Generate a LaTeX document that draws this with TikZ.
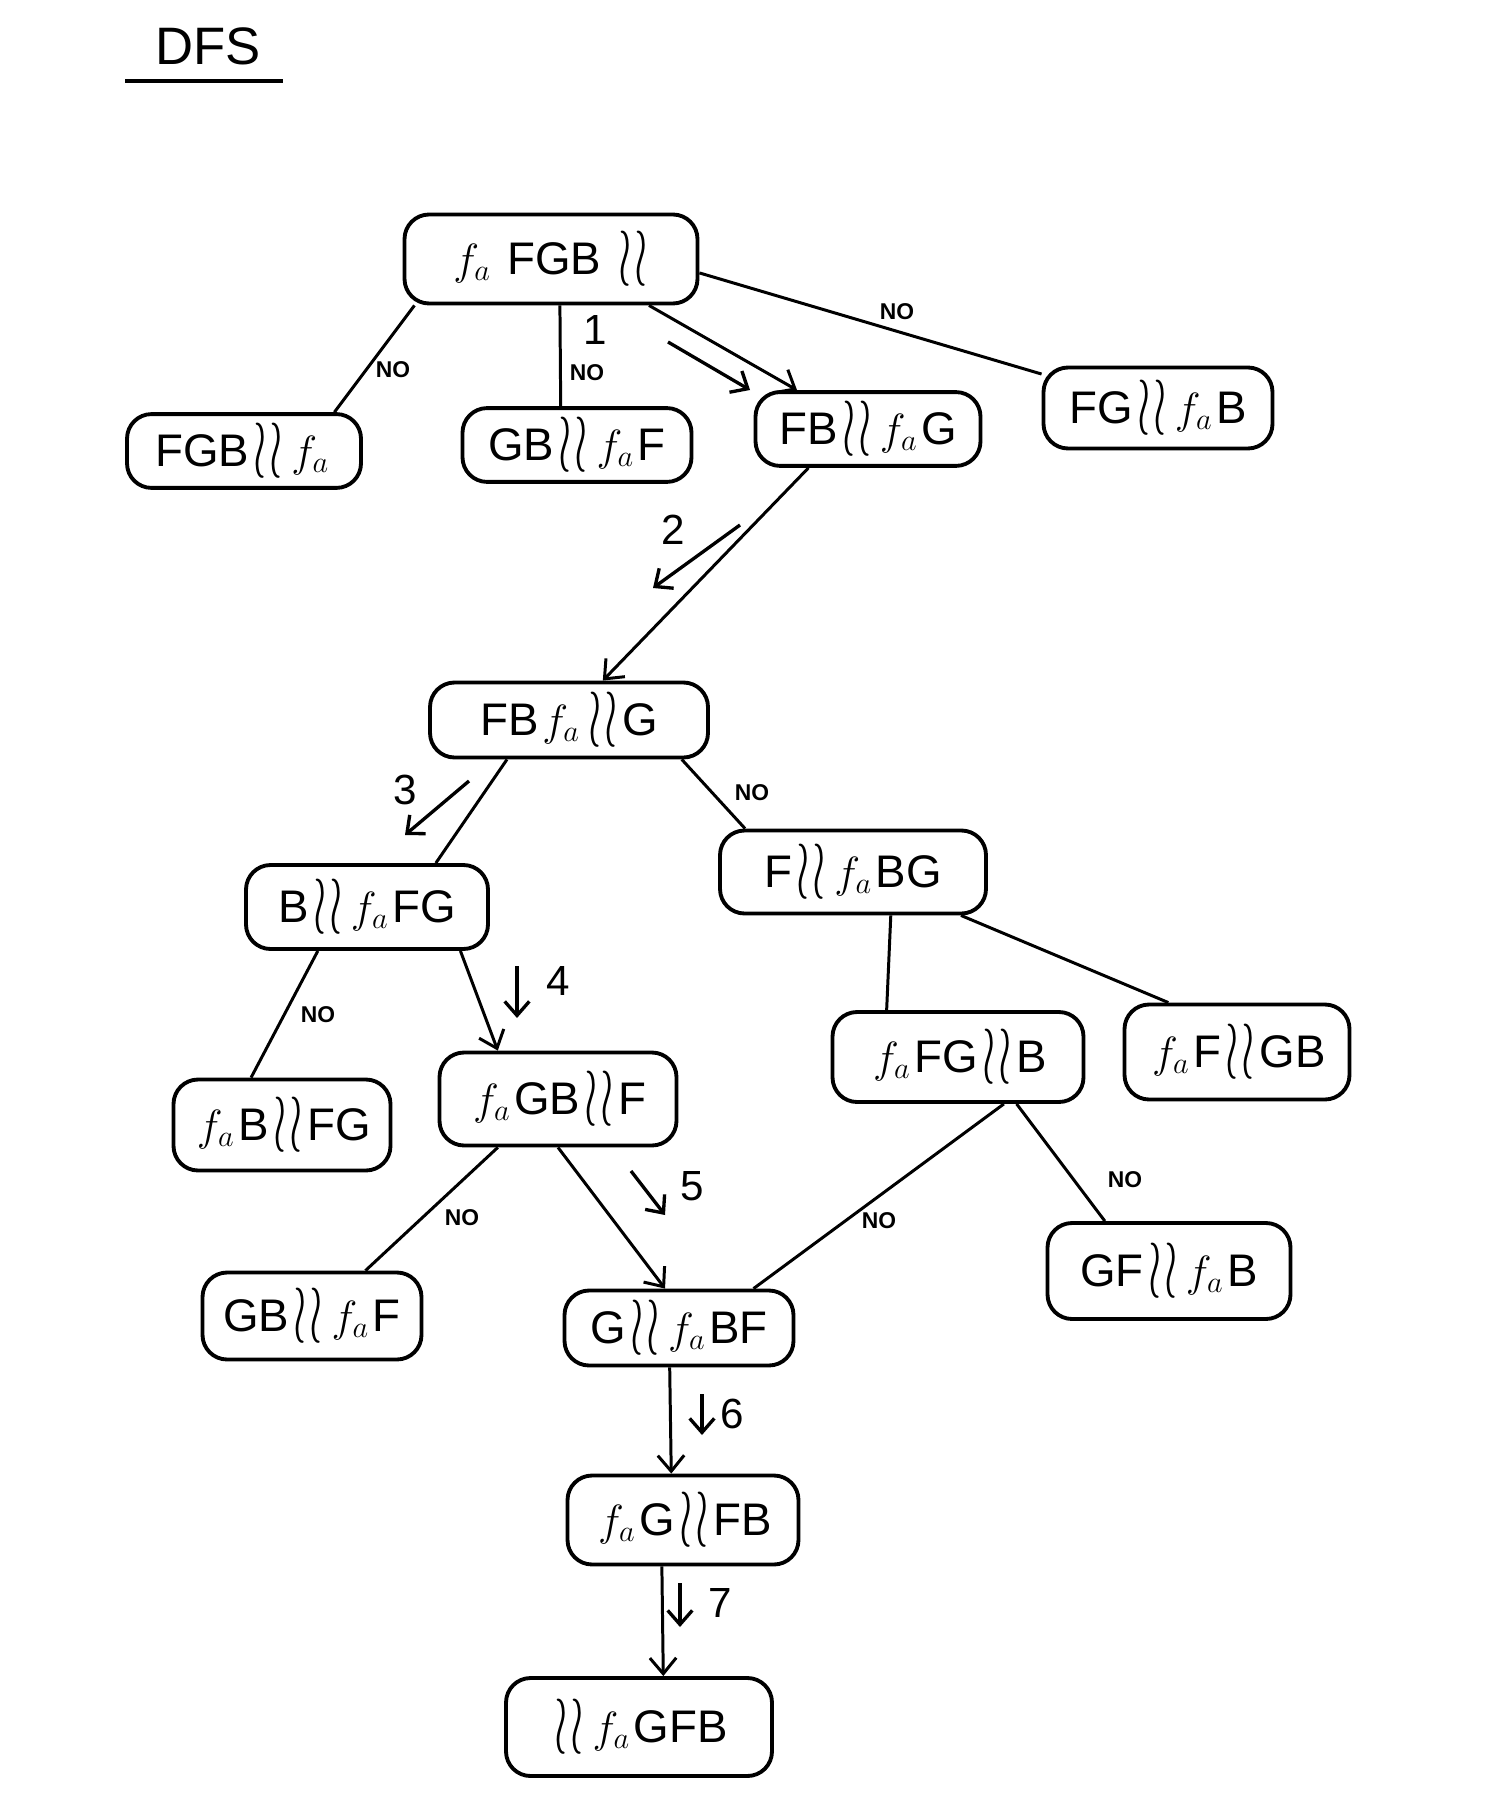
\documentclass[tikz,border=0pt]{standalone}
\usepackage{fontspec}
\usepackage{graphicx}
\setmainfont{Liberation Sans}
\usetikzlibrary{arrows.meta,calc}
\newcommand{\fa}{\kern0.08em$f_{a}$\kern0.08em}
\newcommand{\rv}{\kern0.1em\raisebox{-0.12em}{\scalebox{1.1}[1.9]{$\wr\mkern1mu\wr$}}\kern0.1em}
\begin{document}
\begin{tikzpicture}[x=0.02cm,y=-0.02cm,
  box/.style={draw, line width=2.2pt, rounded corners=14pt, inner sep=0pt,
    font=\fontsize{26}{30}\selectfont},
  bx/.style 2 args={box, minimum width=#1*0.02cm, minimum height=#2*0.02cm},
  edge/.style={line width=1.7pt},
  arr/.style={line width=1.7pt, -{Straight Barb[length=9pt,width=15pt,line width=1.7pt]}},
  annot/.style={line width=1.9pt, -{Straight Barb[length=8pt,width=14pt,line width=1.9pt]}},
  nolab/.style={font=\fontsize{13}{15}\selectfont\bfseries, inner sep=1pt},
  numlab/.style={font=\fontsize{24}{28}\selectfont, inner sep=1pt}]
\useasboundingbox (0,0) rectangle (1510,1814);

% title
\node[font=\fontsize{30}{34}\selectfont] (title) at (208,46) {DFS};
\coordinate (ulA) at (125,81);
\coordinate (ulB) at (283,81);
\draw[line width=2pt] (ulA) -- (ulB);

% nodes
\node[bx={293}{89}] (root) at (551,259) {\fa\ FGB\ \rv};
\node[bx={234}{69}] (L1a) at (244,451) {FGB\rv\fa};
\node[bx={229}{69}] (L1b) at (577,445) {GB\rv\fa F};
\node[bx={225}{72}] (L1c) at (868,429) {FB\rv\fa G};
\node[bx={229}{81}] (L1d) at (1158,408) {FG\rv\fa B};
\node[bx={278}{75}] (N2) at (569,720) {FB\fa\rv G};
\node[bx={242}{84}] (N3) at (367,907) {B\rv\fa FG};
\node[bx={266}{83}] (N3r) at (853,872) {F\rv\fa BG};
\node[bx={217}{91}] (N4l) at (282,1125) {\fa B\rv FG};
\node[bx={237}{93}] (N4) at (558,1099) {\fa GB\rv F};
\node[bx={251}{90}] (N4m) at (958,1057) {\fa FG\rv B};
\node[bx={225}{95}] (N4r) at (1237,1052) {\fa F\rv GB};
\node[bx={219}{87}] (N5l) at (312,1316) {GB\rv\fa F};
\node[bx={229}{75}] (N5) at (679,1328) {G\rv\fa BF};
\node[bx={243}{96}] (N5r) at (1169,1271) {GF\rv\fa B};
\node[bx={231}{89}] (N6) at (683,1520) {\fa G\rv FB};
\node[bx={266}{98}] (N7) at (639,1727) {\rv\fa GFB};

% edges
\draw[edge] ($(root.south west)!0.04!(root.south east)$) -- ($(L1a.north west)!0.88!(L1a.north east)$);
\draw[edge] ($(root.south west)!0.53!(root.south east)$) -- ($(L1b.north west)!0.43!(L1b.north east)$);
\draw[arr] ($(root.south west)!0.83!(root.south east)$) -- ($(L1c.north west)!0.19!(L1c.north east)$);
\draw[edge] ($(root.north east)!0.65!(root.south east)$) -- ($(L1d.north west)!0.1!(L1d.south west)$);
\draw[arr] ($(L1c.south west)!0.24!(L1c.south east)$) -- ($(N2.north west)!0.62!(N2.north east)$);
\draw[edge] ($(N2.south west)!0.28!(N2.south east)$) -- ($(N3.north west)!0.78!(N3.north east)$);
\draw[edge] ($(N2.south west)!0.9!(N2.south east)$) -- ($(N3r.north west)!0.1!(N3r.north east)$);
\draw[edge] ($(N3.south west)!0.3!(N3.south east)$) -- ($(N4l.north west)!0.36!(N4l.north east)$);
\draw[arr] ($(N3.south west)!0.88!(N3.south east)$) -- ($(N4.north west)!0.25!(N4.north east)$);
\draw[edge] ($(N3r.south west)!0.64!(N3r.south east)$) -- ($(N4m.north west)!0.22!(N4m.north east)$);
\draw[edge] ($(N3r.south west)!0.9!(N3r.south east)$) -- ($(N4r.north west)!0.2!(N4r.north east)$);
\draw[edge] ($(N4.south west)!0.25!(N4.south east)$) -- ($(N5l.north west)!0.74!(N5l.north east)$);
\draw[arr] ($(N4.south west)!0.5!(N4.south east)$) -- ($(N5.north west)!0.44!(N5.north east)$);
\draw[edge] ($(N4m.south west)!0.68!(N4m.south east)$) -- ($(N5.north west)!0.82!(N5.north east)$);
\draw[edge] ($(N4m.south west)!0.73!(N4m.south east)$) -- ($(N5r.north west)!0.24!(N5r.north east)$);
\draw[arr] ($(N5.south west)!0.46!(N5.south east)$) -- ($(N6.north west)!0.45!(N6.north east)$);
\draw[arr] ($(N6.south west)!0.41!(N6.south east)$) -- ($(N7.north west)!0.59!(N7.north east)$);

% NO labels
\node[nolab] (no1) at (393,370) {NO};
\node[nolab] (no2) at (587,373) {NO};
\node[nolab] (no3) at (897,312) {NO};
\node[nolab] (no4) at (752,793) {NO};
\node[nolab] (no5) at (318,1015) {NO};
\node[nolab] (no6) at (462,1218) {NO};
\node[nolab] (no7) at (879,1221) {NO};
\node[nolab] (no8) at (1125,1180) {NO};

% step annotations
\node[numlab] (s1) at (595,330) {1};
\draw[annot] (668,342) -- (750,390);
\node[numlab] (s2) at (673,530) {2};
\draw[annot] (740,525) -- (653,588);
\node[numlab] (s3) at (405,790) {3};
\draw[annot] (469,781) -- (405,835);
\node[numlab] (s4) at (558,981) {4};
\draw[annot] (517,966) -- (517,1018);
\node[numlab] (s5) at (692,1186) {5};
\draw[annot] (631,1171) -- (665,1215);
\node[numlab] (s6) at (732,1414) {6};
\draw[annot] (702,1394) -- (702,1435);
\node[numlab] (s7) at (720,1603) {7};
\draw[annot] (680,1583) -- (680,1627);
\end{tikzpicture}
\end{document}
